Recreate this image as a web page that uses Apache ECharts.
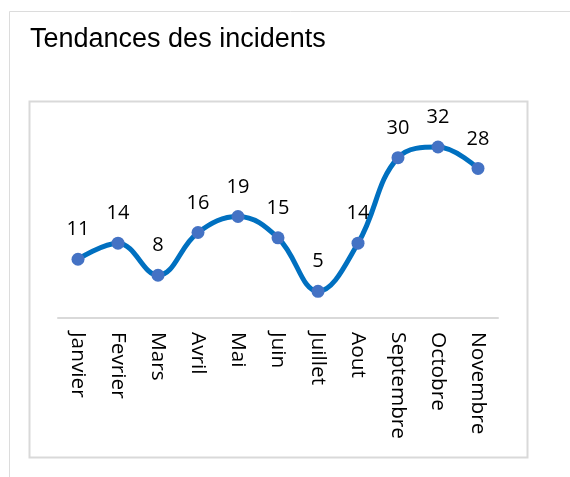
<!DOCTYPE html>
<html>
<head>
<meta charset="utf-8">
<script src="https://cdn.jsdelivr.net/npm/echarts@6/dist/echarts.min.js"></script>
<style>
  html, body { margin: 0; padding: 0; background: #fff; }
  #chart { width: 570px; height: 477px; }
</style>
</head>
<body>
<div id="chart"></div>
<script>
const months = ['Janvier', 'Fevrier', 'Mars', 'Avril', 'Mai', 'Juin', 'Juillet', 'Aout', 'Septembre', 'Octobre', 'Novembre'];
const incidents = [11, 14, 8, 16, 19, 15, 5, 14, 30, 32, 28];

const chart = echarts.init(document.getElementById('chart'));
chart.setOption({
  animation: false,
  backgroundColor: '#fff',
  title: {
    text: 'Tendances des incidents',
    left: 30,
    top: 26,
    padding: 0,
    textStyle: {
      fontFamily: 'Liberation Sans',
      fontSize: 27,
      fontWeight: 'normal',
      color: '#000'
    }
  },
  // chart frames
  graphic: [
    {
      type: 'rect',
      shape: { x: 9.5, y: 11.5, width: 620, height: 500 },
      style: { fill: 'none', stroke: '#dcdcdc', lineWidth: 1 },
      silent: true
    },
    {
      type: 'rect',
      shape: { x: 29.5, y: 101.5, width: 498, height: 356 },
      style: { fill: 'none', stroke: '#d9d9d9', lineWidth: 2 },
      silent: true
    }
  ],
  grid: { left: 58, right: 72, top: 131, bottom: 159 },
  xAxis: {
    type: 'category',
    data: months,
    boundaryGap: true,
    axisLine: { lineStyle: { color: '#d9d9d9', width: 2 } },
    axisTick: { show: false },
    axisLabel: {
      rotate: -90,
      margin: 14,
      fontFamily: 'Open Sans',
      fontSize: 20.8,
      color: '#000'
    }
  },
  yAxis: {
    type: 'value',
    min: 0,
    max: 35,
    show: false,
    splitLine: { show: false }
  },
  series: [{
    type: 'line',
    data: incidents,
    smooth: 0.4,
    symbol: 'circle',
    symbolSize: 13,
    lineStyle: { color: '#0070c0', width: 5 },
    itemStyle: { color: '#4472c4' },
    label: {
      show: true,
      position: 'top',
      distance: 13,
      fontFamily: 'Open Sans',
      fontSize: 20,
      color: '#000'
    }
  }]
});
</script>
</body>
</html>
